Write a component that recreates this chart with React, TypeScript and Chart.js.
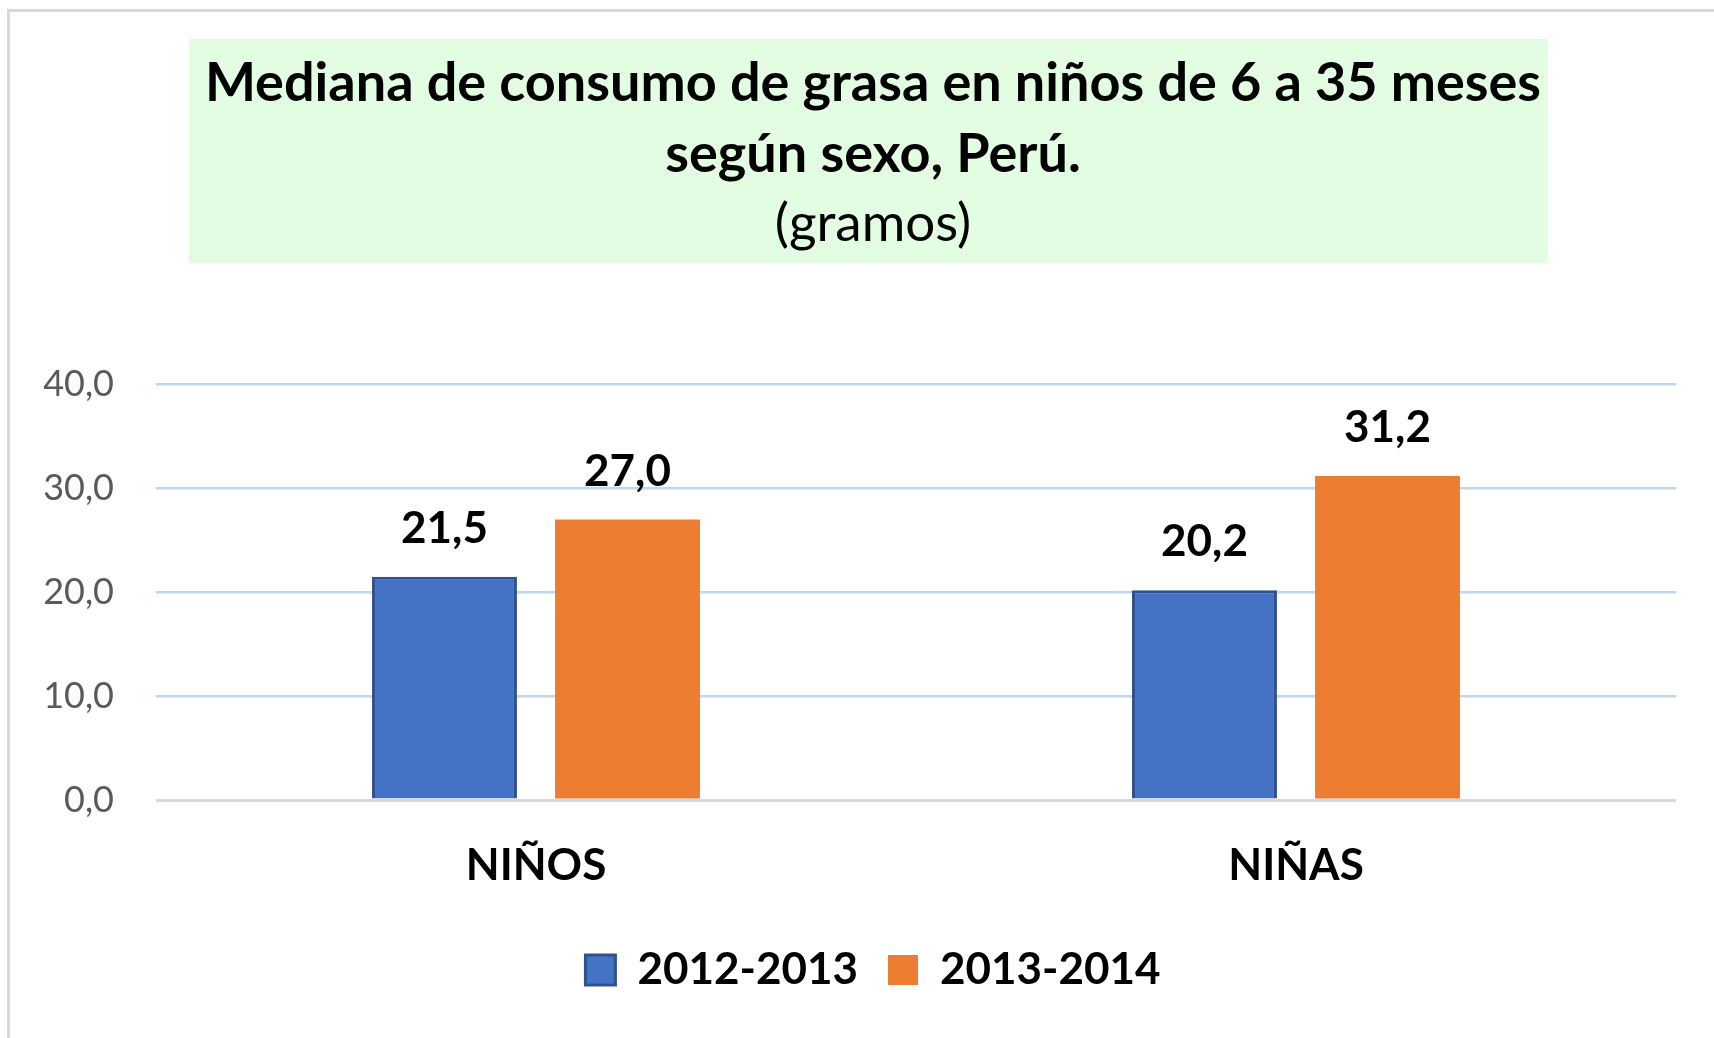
import React, { useEffect, useRef } from 'react';
import { Chart, registerables } from 'chart.js';

Chart.register(...registerables);

// ---- Data ----
const categories = ['NIÑOS', 'NIÑAS'];
const seriesNames = ['2012-2013', '2013-2014'];
const values20122013 = [21.5, 20.2];
const values20132014 = [27.0, 31.2];
const titleLines = ['Mediana de consumo de grasa en niños de 6 a 35 meses', 'según sexo, Perú.'];
const subtitleText = '(gramos)';
const yMin = 0;
const yMax = 40;
const yStep = 10;

const fmt = (v: number) => v.toFixed(1).replace('.', ',');

const FONT = 'Lato, "Open Sans", "DejaVu Sans", sans-serif';

const titleBoxPlugin = {
  id: 'titleBox',
  beforeDraw(chart: any) {
    const { ctx } = chart;
    ctx.save();
    ctx.fillStyle = '#e2fde2';
    ctx.fillRect(189, 39, 1359, 224);
    ctx.restore();
  },
};

const dataLabelsPlugin = {
  id: 'dataLabels',
  afterDatasetsDraw(chart: any) {
    const { ctx } = chart;
    ctx.save();
    ctx.font = `bold 44px ${FONT}`;
    ctx.fillStyle = '#000000';
    ctx.textAlign = 'center';
    ctx.textBaseline = 'middle';
    chart.data.datasets.forEach((ds: any, i: number) => {
      const meta = chart.getDatasetMeta(i);
      meta.data.forEach((el: any, j: number) => {
        const v = ds.data[j] as number;
        ctx.fillText(fmt(v), el.x, el.y - 48);
      });
    });
    ctx.restore();
  },
};

export default function App() {
  const canvasRef = useRef<HTMLCanvasElement | null>(null);

  useEffect(() => {
    if (!canvasRef.current) return;
    const chart = new Chart(canvasRef.current, {
      type: 'bar',
      data: {
        labels: categories,
        datasets: [
          {
            label: seriesNames[0],
            data: values20122013,
            backgroundColor: '#4472c4',
            borderColor: '#2f528f',
            borderWidth: 3,
            categoryPercentage: 0.4816,
            barPercentage: 0.792,
          },
          {
            label: seriesNames[1],
            data: values20132014,
            backgroundColor: '#ed7d31',
            borderColor: '#ed7d31',
            borderWidth: 0,
            categoryPercentage: 0.4816,
            barPercentage: 0.792,
          },
        ],
      },
      options: {
        responsive: false,
        animation: false,
        maintainAspectRatio: false,
        layout: { padding: { left: 38, right: 6, top: 0, bottom: 36 } },
        plugins: {
          title: {
            display: true,
            text: titleLines,
            color: '#000000',
            font: { family: FONT, size: 54, weight: 'bold', lineHeight: 71 / 54 },
            padding: { top: 48, bottom: 0 },
          },
          subtitle: {
            display: true,
            text: subtitleText,
            color: '#000000',
            font: { family: FONT, size: 53, weight: 'normal', lineHeight: 1.2 },
            padding: { top: 2, bottom: 129 },
          },
          legend: {
            display: true,
            position: 'bottom',
            labels: {
              color: '#000000',
              font: { family: FONT, size: 44, weight: 'bold' },
              boxWidth: 30,
              boxHeight: 30,
              padding: 30,
            },
          },
          tooltip: { enabled: false },
        },
        scales: {
          x: {
            grid: { display: false },
            border: { display: false },
            ticks: {
              color: '#000000',
              font: { family: FONT, size: 44, weight: 'bold' },
              padding: 31,
            },
            afterFit(scale: any) {
              scale.height = 118;
            },
          },
          y: {
            min: yMin,
            max: yMax,
            grid: {
              drawTicks: false,
              color: (c: any) => (c.tick && c.tick.value === 0 ? '#d9d9d9' : '#bdd7ee'),
              lineWidth: (c: any) => (c.tick && c.tick.value === 0 ? 3 : 2.5),
            },
            border: { display: false },
            ticks: {
              stepSize: yStep,
              color: '#595959',
              font: { family: FONT, size: 36 },
              padding: 42,
              callback: (v: any) => fmt(Number(v)),
            },
            afterFit(scale: any) {
              scale.width = 118;
            },
          },
          yRight: {
            type: 'linear',
            position: 'right',
            min: yMin,
            max: yMax,
            grid: { display: false, drawOnChartArea: false },
            border: { display: false },
            ticks: { display: false },
            afterFit(scale: any) {
              scale.width = 32;
            },
          },
        },
      },
      plugins: [titleBoxPlugin, dataLabelsPlugin],
    } as any);
    return () => chart.destroy();
  }, []);

  return (
    <div
      style={{
        position: 'fixed',
        left: 0,
        top: 0,
        width: 1714,
        height: 1038,
        overflow: 'hidden',
        background: '#ffffff',
      }}
    >
      <div
        style={{
          position: 'absolute',
          left: 7,
          top: 9,
          width: 2000,
          height: 2000,
          borderLeft: '3px solid #d9d9d9',
          borderTop: '3px solid #d9d9d9',
        }}
      />
      <canvas
        ref={canvasRef}
        width={1714}
        height={1038}
        style={{ position: 'absolute', left: 0, top: 0, width: 1714, height: 1038, display: 'block' }}
      />
    </div>
  );
}
